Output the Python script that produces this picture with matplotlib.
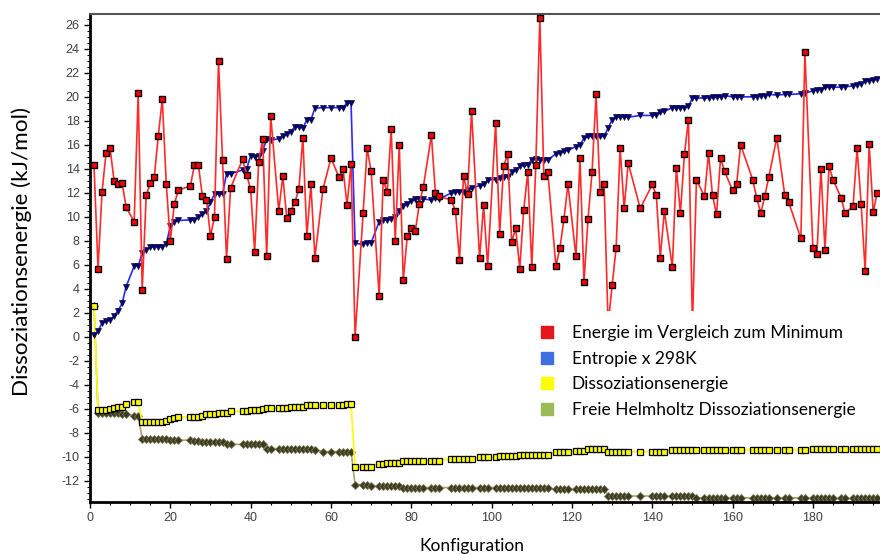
import matplotlib
matplotlib.use('Agg')
import matplotlib.pyplot as plt
from matplotlib.lines import Line2D
from matplotlib.ticker import MultipleLocator

plt.rcParams['axes.unicode_minus'] = False

#   Konfigurationen (x) and the four energy series in kJ/mol
konfig = [1, 2, 3, 4, 5, 6, 7, 8, 9, 11,
          12, 13, 14, 15, 16, 17, 18, 19, 20, 21,
          22, 25, 26, 27, 28, 29, 30, 31, 32, 33,
          34, 35, 38, 39, 40, 41, 42, 43, 44, 45,
          47, 48, 49, 50, 51, 52, 53, 54, 55, 56,
          58, 60, 62, 63, 64, 65, 66, 68, 69, 70,
          72, 73, 74, 75, 76, 77, 78, 79, 80, 81,
          82, 83, 85, 86, 87, 90, 91, 92, 93, 94,
          95, 97, 98, 99, 101, 102, 103, 104, 105, 106,
          107, 108, 109, 110, 111, 112, 113, 114, 116, 117,
          118, 119, 121, 122, 123, 124, 125, 126, 127, 128,
          129, 130, 131, 132, 133, 134, 137, 140, 141, 142,
          143, 145, 146, 147, 148, 149, 150, 151, 153, 154,
          155, 156, 157, 158, 160, 161, 162, 165, 166, 167,
          168, 169, 171, 173, 174, 177, 178, 180, 181, 182,
          183, 184, 185, 187, 188, 190, 191, 192, 193, 194,
          195, 196]

#   Energie im Vergleich zum Minimum
e_min = [14.3, 5.7, 12.1, 15.3, 15.7, 13.0, 12.75, 12.8, 10.8, 9.6,
         20.3, 3.9, 11.8, 12.8, 13.3, 16.75, 19.8, 12.7, 8.0, 11.1,
         12.2, 12.6, 14.3, 14.3, 11.7, 11.4, 8.4, 10.0, 23.0, 14.7,
         6.5, 12.4, 14.8, 13.5, 12.3, 7.05, 14.6, 16.5, 6.7, 18.4,
         10.5, 13.4, 9.9, 10.5, 11.2, 12.3, 16.6, 8.4, 12.7, 6.6,
         12.3, 14.9, 13.3, 14.0, 11.0, 14.4, 0.0, 10.3, 15.7, 13.8,
         3.4, 13.1, 12.05, 17.3, 8.0, 16.0, 4.75, 8.4, 9.05, 8.8,
         11.1, 12.5, 16.8, 12.0, 11.7, 11.4, 10.5, 6.4, 13.4, 11.9,
         18.8, 6.55, 11.0, 5.9, 17.8, 8.6, 14.25, 15.2, 7.9, 9.05,
         5.7, 10.6, 13.7, 5.8, 14.3, 26.6, 13.4, 13.7, 5.9, 7.4,
         9.8, 12.7, 6.7, 14.9, 4.6, 9.8, 13.7, 20.2, 12.05, 12.7,
         1.0, 4.3, 7.4, 15.7, 10.7, 14.5, 10.7, 12.7, 11.8, 6.6,
         10.5, 5.8, 14.1, 10.3, 15.2, 18.1, 1.0, 13.1, 11.7, 15.3,
         11.8, 10.2, 14.9, 13.8, 12.2, 12.7, 16.0, 13.1, 11.6, 10.3,
         11.7, 13.3, 16.6, 11.8, 11.2, 8.2, 23.7, 7.4, 6.9, 14.0,
         7.2, 14.25, 13.1, 11.6, 10.3, 10.9, 15.7, 11.1, 5.5, 16.05,
         10.4, 12.0]

#   Entropie x 298K
entropie = [0.15, 0.5, 1.15, 1.3, 1.4, 1.75, 2.2, 2.8, 4.2, 5.9,
            5.9, 7.0, 7.25, 7.45, 7.5, 7.5, 7.5, 7.75, 9.2, 9.6,
            9.7, 9.75, 9.7, 10.0, 10.2, 10.45, 11.2, 11.9, 11.9, 11.9,
            13.6, 13.6, 13.9, 14.0, 15.1, 15.0, 15.1, 15.5, 16.5, 16.4,
            16.5, 16.7, 16.9, 17.1, 17.5, 17.5, 17.4, 18.1, 18.1, 19.05,
            19.1, 19.1, 19.1, 19.1, 19.5, 19.5, 7.8, 7.7, 7.85, 7.85,
            9.6, 9.7, 9.75, 9.8, 10.0, 10.5, 10.9, 11.1, 11.3, 11.5,
            11.5, 11.5, 11.4, 11.55, 11.5, 12.0, 12.05, 12.1, 12.1, 12.25,
            12.4, 12.6, 12.7, 13.1, 13.1, 13.2, 13.3, 13.35, 13.7, 13.9,
            14.2, 14.3, 14.35, 14.75, 14.8, 14.75, 14.75, 14.75, 15.25, 15.35,
            15.45, 15.55, 15.85, 16.0, 16.55, 16.7, 16.7, 16.7, 16.7, 16.7,
            17.4, 18.1, 18.3, 18.35, 18.35, 18.3, 18.45, 18.45, 18.5, 18.7,
            18.8, 19.1, 19.1, 19.1, 19.1, 19.2, 19.9, 19.9, 19.9, 19.9,
            19.95, 19.95, 20.0, 20.1, 20.0, 20.0, 20.0, 20.0, 20.0, 20.1,
            20.1, 20.2, 20.15, 20.2, 20.2, 20.25, 20.3, 20.5, 20.6, 20.6,
            20.8, 20.8, 20.8, 20.8, 20.85, 20.9, 21.0, 21.1, 21.3, 21.35,
            21.4, 21.45]

#   Dissoziationsenergie
e_diss = [2.6, -6.1, -6.05, -6.05, -6.0, -5.95, -5.85, -5.8, -5.6, -5.4,
          -5.4, -7.1, -7.05, -7.05, -7.05, -7.05, -7.05, -7.0, -6.85, -6.75,
          -6.65, -6.7, -6.7, -6.7, -6.55, -6.45, -6.4, -6.4, -6.35, -6.35,
          -6.3, -6.2, -6.2, -6.2, -6.1, -6.1, -6.05, -6.0, -5.95, -5.95,
          -5.95, -5.95, -5.95, -5.8, -5.8, -5.8, -5.8, -5.7, -5.7, -5.7,
          -5.7, -5.7, -5.7, -5.65, -5.6, -5.6, -10.8, -10.8, -10.8, -10.8,
          -10.6, -10.55, -10.5, -10.5, -10.5, -10.5, -10.3, -10.3, -10.3, -10.3,
          -10.3, -10.3, -10.3, -10.3, -10.3, -10.15, -10.15, -10.15, -10.15, -10.15,
          -10.15, -10.0, -10.0, -10.0, -10.0, -9.9, -9.9, -9.9, -9.9, -9.9,
          -9.8, -9.8, -9.8, -9.8, -9.8, -9.8, -9.8, -9.8, -9.6, -9.6,
          -9.6, -9.6, -9.5, -9.5, -9.5, -9.35, -9.35, -9.35, -9.35, -9.35,
          -9.6, -9.55, -9.55, -9.55, -9.55, -9.55, -9.55, -9.55, -9.55, -9.55,
          -9.55, -9.4, -9.4, -9.4, -9.4, -9.4, -9.4, -9.4, -9.4, -9.4,
          -9.4, -9.4, -9.4, -9.4, -9.4, -9.4, -9.4, -9.4, -9.4, -9.4,
          -9.4, -9.4, -9.4, -9.4, -9.4, -9.4, -9.4, -9.3, -9.3, -9.3,
          -9.3, -9.3, -9.3, -9.3, -9.3, -9.3, -9.3, -9.3, -9.3, -9.3,
          -9.3, -9.3]

#   Freie Helmholtz Dissoziationsenergie
helmholtz = [2.6, -6.3, -6.3, -6.3, -6.3, -6.35, -6.35, -6.4, -6.45, -6.55,
             -6.55, -8.5, -8.5, -8.5, -8.5, -8.5, -8.5, -8.5, -8.6, -8.6,
             -8.6, -8.6, -8.65, -8.7, -8.75, -8.75, -8.75, -8.75, -8.75, -8.75,
             -8.9, -8.95, -8.95, -8.95, -8.95, -8.95, -8.95, -8.95, -9.3, -9.3,
             -9.3, -9.3, -9.3, -9.3, -9.3, -9.3, -9.3, -9.3, -9.35, -9.4,
             -9.55, -9.55, -9.55, -9.55, -9.55, -9.55, -12.3, -12.3, -12.3, -12.4,
             -12.45, -12.45, -12.45, -12.45, -12.45, -12.45, -12.55, -12.55, -12.55, -12.55,
             -12.55, -12.55, -12.55, -12.55, -12.55, -12.55, -12.55, -12.55, -12.55, -12.55,
             -12.55, -12.55, -12.55, -12.55, -12.55, -12.6, -12.6, -12.6, -12.6, -12.6,
             -12.6, -12.6, -12.6, -12.6, -12.6, -12.6, -12.6, -12.6, -12.7, -12.7,
             -12.7, -12.7, -12.7, -12.7, -12.7, -12.7, -12.7, -12.7, -12.7, -12.7,
             -13.25, -13.25, -13.25, -13.25, -13.25, -13.25, -13.25, -13.25, -13.25, -13.25,
             -13.25, -13.25, -13.25, -13.25, -13.25, -13.25, -13.25, -13.4, -13.4, -13.4,
             -13.4, -13.4, -13.4, -13.4, -13.4, -13.4, -13.4, -13.4, -13.4, -13.4,
             -13.4, -13.4, -13.4, -13.4, -13.4, -13.4, -13.4, -13.4, -13.45, -13.45,
             -13.45, -13.45, -13.45, -13.45, -13.45, -13.45, -13.45, -13.45, -13.45, -13.45,
             -13.45, -13.45]

legend_labels = ['Energie im Vergleich zum Minimum', 'Entropie x 298K',
                 'Dissoziationsenergie', 'Freie Helmholtz Dissoziationsenergie']
legend_colors = ['#e3161e', '#3f6fe0', '#ffff00', '#9bbb59']

fig = plt.figure(figsize=(8.8, 5.54), dpi=100)
ax = fig.add_axes([90/880, 1 - 502/554, 790/880, 488/554])

#   Lower two series: dissociation energies
ax.plot(konfig, helmholtz, '-', color='#a9a56b', lw=1.2, marker='D', ms=3.6,
        mfc='#3a3a24', mec='#77774f', mew=0.6, zorder=2)
ax.plot(konfig, e_diss, '-', color='#ffff00', lw=1.2, marker='s', ms=5,
        mfc='#ffff00', mec='black', mew=0.9, zorder=3)
#   Entropy term and relative energy
ax.plot(konfig, entropie, '-', color='#2828ff', lw=1.2, marker='v', ms=4.5,
        mfc='#000080', mec='#101030', mew=0.5, zorder=4)
ax.plot(konfig, e_min, '-', color='#ff2a2a', lw=1.2, marker='s', ms=5,
        mfc='#ff0000', mec='black', mew=1.0, zorder=5)

ax.set_xlim(0, 196.7)
ax.set_ylim(-13.75, 26.9)
ax.xaxis.set_major_locator(MultipleLocator(20))
ax.xaxis.set_minor_locator(MultipleLocator(5))
ax.yaxis.set_major_locator(MultipleLocator(2))
ax.yaxis.set_minor_locator(MultipleLocator(0.5))

ax.spines['right'].set_visible(False)
ax.spines['top'].set_color('#555555')
ax.spines['top'].set_linewidth(1.5)
ax.spines['left'].set_linewidth(2)
ax.spines['bottom'].set_linewidth(2)

ax.tick_params(which='major', direction='out', length=4, width=1,
               labelsize=9, labelcolor='#404040')
ax.tick_params(which='minor', direction='out', length=2, width=0.8)
for lab in ax.get_xticklabels() + ax.get_yticklabels():
    lab.set_family('Liberation Sans')

#   Axis titles
fig.text(22/880, 1 - 251/554, 'Dissoziationsenergie (kJ/mol)', rotation=90,
         ha='center', va='center', fontsize=16.2, family='Lato')
fig.text(472/880, 1 - 538/554, 'Konfiguration', ha='center', va='top',
         fontsize=12.5, family='Lato')

#   Legend with square colour patches on a white box
handles = [Line2D([], [], ls='none', marker='s', ms=9, mfc=c, mec=c)
           for c in legend_colors]
fig.legend(handles, legend_labels, loc='upper left',
           bbox_to_anchor=(524/880, 1 - 311/554), frameon=True,
           facecolor='white', edgecolor='none', framealpha=1,
           prop={'family': 'Lato', 'size': 12.5}, handlelength=1,
           handletextpad=0.94, labelspacing=0.56, borderpad=0.8,
           borderaxespad=0)

plt.savefig('out.png', dpi=100)
